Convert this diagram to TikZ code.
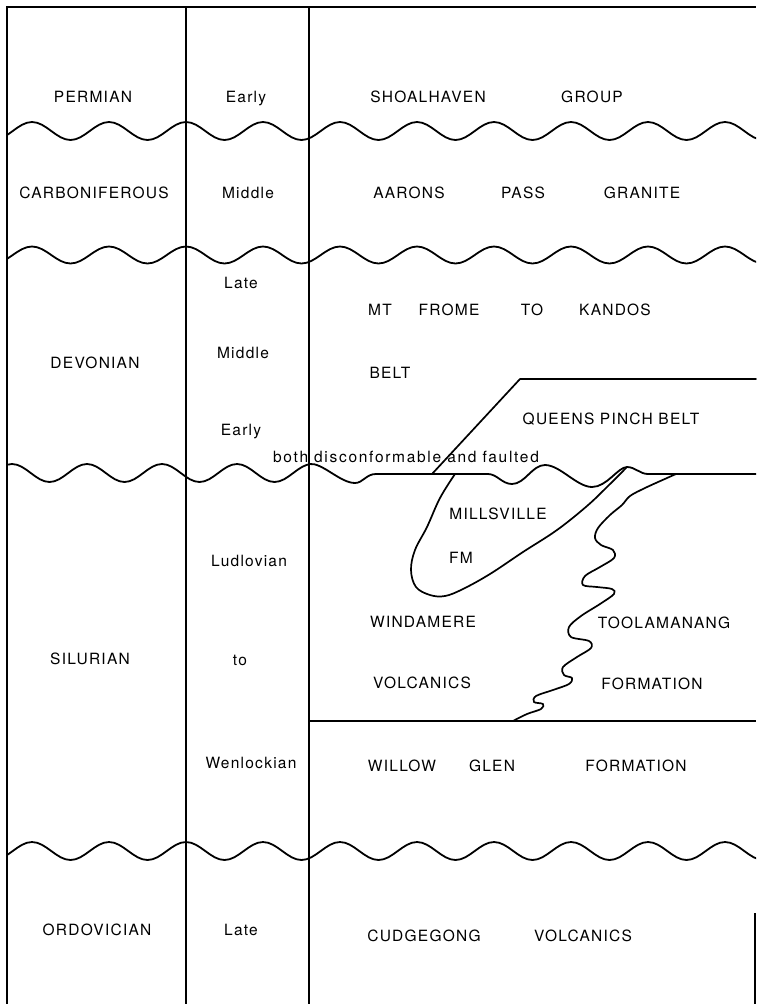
\documentclass[tikz,border=0pt]{standalone}
\usepackage{fontspec}
\setmainfont{TeX Gyre Heros}[LetterSpace=8]
\newfontfamily\widefont{TeX Gyre Heros}[LetterSpace=11]
\usepackage{tikz}

\begin{document}
\begin{tikzpicture}[x=1pt, y=-1pt, font=\fontsize{15.5}{18}\selectfont,
  lbl/.style={inner sep=0pt, text height=11.2pt, text depth=0pt},
  frame/.style={line width=1.6pt},
  wave/.style={line width=1.8pt, line join=round},
  contact/.style={line width=1.7pt, line join=round, line cap=round},
]
  \useasboundingbox (0,0) rectangle (756,1004);
  % columns
  \draw[frame] (7,1004) -- (7,7) -- (756,7);
  \draw[frame] (186,7) -- (186,1004);
  \draw[frame] (309,7) -- (309,1004);
  \draw[frame] (755,913) -- (755,1004);
  % unconformities, period 77
  \begin{scope}
    \clip (7,0) rectangle (756,1004);
    \foreach \yy/\aa in {131/9, 255/8.5, 851/9} {
      \draw[wave] (-45,\yy-\aa) \foreach \k in {0,...,10} {
        cos ++(19.25,\aa) sin ++(19.25,\aa) cos ++(19.25,-\aa) sin ++(19.25,-\aa) };
    }
  \end{scope}
  % base of the Devonian, partly faulted
  \begin{scope}
    \clip (7,0) rectangle (309,1004);
    \draw[wave] (-63,464) \foreach \k in {0,...,4} {
      cos ++(18.75,9) sin ++(18.75,9) cos ++(18.75,-9) sin ++(18.75,-9) };
  \end{scope}
  \draw[wave] (309,464)
    .. controls (322,462) and (340,483) .. (355,483)
    .. controls (363,483) and (366,474) .. (376,474) -- (488,474)
    .. controls (497,474) and (502,484) .. (512,484)
    .. controls (525,484) and (532,465) .. (545,465)
    .. controls (560,465) and (577,487) .. (592,487)
    .. controls (607,487) and (618,467) .. (627,467)
    .. controls (635,467) and (640,474) .. (648,474) -- (756,474);
  \draw[contact] (432,474) -- (520,379) -- (756,379);
  \draw[contact] plot[smooth, tension=0.6] coordinates {(455,474) (440,498) (427,527)
    (415,550) (411,570) (416,587) (430,595) (445,596) (463,589) (490,574) (523,552)
    (557,530) (587,506) (608,486) (627,467)};
  \draw[contact] plot[smooth, tension=0.55] coordinates {(676,474) (667,478) (645,488)
    (630,496) (622,505) (610,515) (598,528) (595,538) (601,545) (613,550) (614,558)
    (600,567) (585,576) (583,585) (597,587) (612,589) (614,594) (600,604) (581,616)
    (569,627) (571,637) (589,641) (591,648) (577,657) (563,667) (564,675) (572,678)
    (569,684) (553,690) (536,696) (534,702) (543,704) (541,709) (527,714) (513,721)};
  \draw[frame] (309,721) -- (756,721);
  % labels
  \foreach \nm/\xx/\yy/\txt in {%
    perm/93/97/PERMIAN, permE/246/97/Early, shoal/428/97/SHOALHAVEN, group/592/97/GROUP,%
    carb/94/193/CARBONIFEROUS, carbM/248/193/Middle, aarons/409/193/AARONS,%
    pass/523/193/PASS, granite/642/193/GRANITE,%
    dev/95/363/DEVONIAN, devL/241/283/Late, devM/243/353/Middle, devE/241/430/Early,%
    mt/380/310/MT, frome/449/310/FROME, to/532/310/TO, kandos/615/310/KANDOS,%
    belt/390/373/BELT, queens/611/419/{QUEENS PINCH BELT},%
    mills/498/514/MILLSVILLE, fm/461/558/FM,%
    sil/90/659/SILURIAN, ludl/249/561/Ludlovian, silto/240/660/to, wenl/251/763/Wenlockian,%
    wind/423/622/WINDAMERE, volc/422/683/VOLCANICS,%
    tool/664/623/TOOLAMANANG, tform/652/684/FORMATION,%
    willow/402/766/WILLOW, glen/492/766/GLEN, wform/636/766/FORMATION,%
    ord/97/930/ORDOVICIAN, ordL/241/930/Late, cudg/424/936/CUDGEGONG, cvolc/583/936/VOLCANICS%
  } {
    \node[lbl] (\nm) at (\xx,\yy) {\txt};
  }
  \node[lbl, font=\widefont\fontsize{15.5}{18}\selectfont] (both) at (406,457)
    {both disconformable and faulted};
\end{tikzpicture}
\end{document}
